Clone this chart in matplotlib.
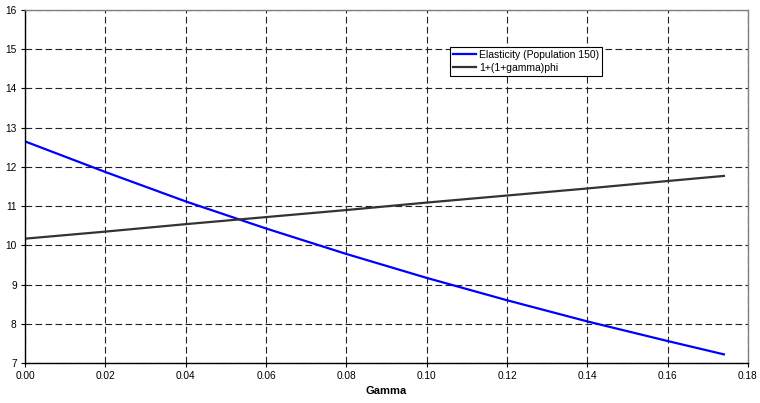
import numpy as np
import matplotlib.pyplot as plt

plt.rcParams['font.family'] = ['Liberation Sans', 'DejaVu Sans']

# valores
gamma = [0.00, 0.02, 0.04, 0.06, 0.08, 0.10, 0.12, 0.14, 0.16, 0.174]
elasticidad = [12.65, 11.87, 11.12, 10.43, 9.78, 9.17, 8.60, 8.06, 7.56, 7.22]
linea_phi = [10.17, 10.35, 10.54, 10.72, 10.90, 11.09, 11.27, 11.45, 11.64, 11.77]

x_ticks = [0.00, 0.02, 0.04, 0.06, 0.08, 0.10, 0.12, 0.14, 0.16, 0.18]
y_ticks = [7, 8, 9, 10, 11, 12, 13, 14, 15, 16]

fig = plt.figure(figsize=(7.6, 4.03), dpi=100)
ax = fig.add_axes([25/760, 40/403, 723/760, 353/403])

ax.plot(gamma, elasticidad, color='#0000ff', lw=1.6, label='Elasticity (Population 150)')
ax.plot(gamma, linea_phi, color='#333333', lw=1.6, label='1+(1+gamma)phi')

ax.set_xlim(0, 0.18)
ax.set_ylim(7, 16)
ax.set_xticks(x_ticks)
ax.set_xticklabels([f'{t:.2f}' for t in x_ticks])
ax.set_yticks(y_ticks)

ax.grid(True, color='#222222', ls=(0, (6, 3)), lw=0.8)
ax.set_axisbelow(True)

ax.spines['left'].set_color('black')
ax.spines['bottom'].set_color('black')
ax.spines['top'].set_color('#808080')
ax.spines['right'].set_color('#808080')
for s in ax.spines.values():
    s.set_linewidth(1.0)

ax.tick_params(labelsize=7.3, length=3, width=0.8, direction='out', pad=3)
ax.set_xlabel('Gamma', fontsize=8, fontweight='bold', labelpad=3)

leg = ax.legend(loc='upper left', bbox_to_anchor=(0.58, 0.91), fontsize=7.5,
                frameon=True, fancybox=False, framealpha=1, edgecolor='black',
                handlelength=2.2, handletextpad=0.3, borderpad=0.3, labelspacing=0.25)
leg.get_frame().set_linewidth(0.8)

fig.savefig('out.png', dpi=100)
